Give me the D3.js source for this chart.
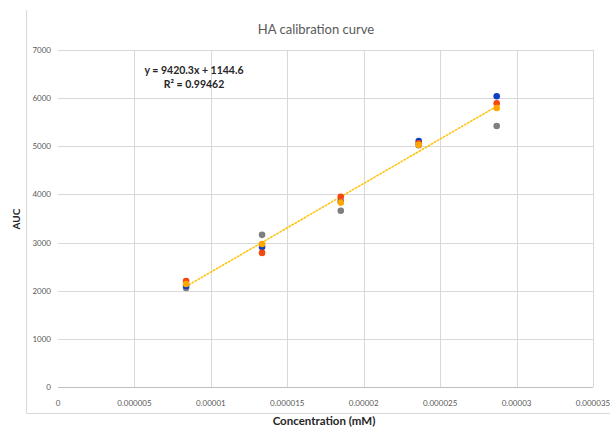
<!DOCTYPE html>
<html><head><meta charset="utf-8">
<script src="https://cdn.jsdelivr.net/npm/d3@7"></script>
<style>body{margin:0;background:#fff}svg{display:block}</style>
</head><body>
<svg id="c" width="610" height="429"></svg>
<script>
const concentrations = [0.00000838, 0.00001335, 0.0000185, 0.0000236, 0.0000287];
const seriesBlue   = [2100, 2910, 3850, 5110, 6040];
const seriesRed    = [2200, 2785, 3950, 5060, 5895];
const seriesOrange = [2140, 2970, 3830, 5030, 5795];
const seriesGray   = [2055, 3160, 3660, 5020, 5420];
const seriesColors = ["#0d3fc0", "#f4480e", "#ffa600", "#7f7f7f"];
const xTicks = [0, 0.000005, 0.00001, 0.000015, 0.00002, 0.000025, 0.00003, 0.000035];
const xTickLabels = ["0", "0.000005", "0.00001", "0.000015", "0.00002", "0.000025", "0.00003", "0.000035"];
const yTicks = [0, 1000, 2000, 3000, 4000, 5000, 6000, 7000];
const titleText = "HA calibration curve";
const equationText = "y = 9420.3x + 1144.6";
const r2Text = "R\u00b2 = 0.99462";

(function () {
const allSeries = [seriesBlue, seriesRed, seriesOrange, seriesGray];
const drawOrder = [3, 0, 1, 2];

const svg = d3.select("#c");
const pL = 58, pR = 593, pT = 50, pB = 387;
const x = d3.scaleLinear().domain([0, 0.000035]).range([pL, pR]);
const y = d3.scaleLinear().domain([0, 7000]).range([pB, pT]);
const font = "Lato, 'Open Sans', sans-serif";

// chart frame (partially visible)
svg.append("line").attr("x1", 26.5).attr("x2", 26.5).attr("y1", 10).attr("y2", 413.5).attr("stroke", "#d9d9d9");
svg.append("line").attr("x1", 26.5).attr("x2", 610).attr("y1", 413.5).attr("y2", 413.5).attr("stroke", "#d9d9d9");

// gridlines
svg.append("g").selectAll("line").data(yTicks.slice(1)).join("line")
  .attr("x1", pL).attr("x2", pR)
  .attr("y1", d => Math.round(y(d)) + 0.5).attr("y2", d => Math.round(y(d)) + 0.5)
  .attr("stroke", "#d9d9d9");
svg.append("g").selectAll("line").data(xTicks.slice(1)).join("line")
  .attr("y1", pT).attr("y2", pB)
  .attr("x1", d => Math.round(x(d)) + 0.5).attr("x2", d => Math.round(x(d)) + 0.5)
  .attr("stroke", "#d9d9d9");
svg.append("line").attr("x1", pL).attr("x2", pR)
  .attr("y1", Math.round(y(0)) + 0.5).attr("y2", Math.round(y(0)) + 0.5).attr("stroke", "#bfbfbf");

// tick labels
svg.append("g").selectAll("text").data(yTicks).join("text")
  .attr("x", pL - 7).attr("y", d => y(d) + 3)
  .attr("text-anchor", "end").attr("font-family", font).attr("font-size", 8)
  .attr("fill", "#595959").text(d => d);
svg.append("g").selectAll("text").data(xTicks).join("text")
  .attr("x", d => x(d)).attr("y", 406)
  .attr("text-anchor", "middle").attr("font-family", font).attr("font-size", 8)
  .attr("fill", "#595959").text((d, i) => xTickLabels[i]);

// trendline (least squares fit on the orange series)
const fit = d3.range(concentrations.length).map(i => [concentrations[i], seriesOrange[i]]);
const mx = d3.mean(fit, d => d[0]), my = d3.mean(fit, d => d[1]);
const slope = d3.sum(fit, d => (d[0] - mx) * (d[1] - my)) / d3.sum(fit, d => (d[0] - mx) ** 2);
const icpt = my - slope * mx;
const xa = concentrations[0], xb = concentrations[concentrations.length - 1];
svg.append("line")
  .attr("x1", x(xa)).attr("y1", y(icpt + slope * xa))
  .attr("x2", x(xb)).attr("y2", y(icpt + slope * xb))
  .attr("stroke", "#ffc000").attr("stroke-width", 1.5)
  .attr("stroke-dasharray", "1.5,2").attr("stroke-linecap", "round");

// markers
drawOrder.forEach(si => {
  svg.append("g").selectAll("circle").data(allSeries[si]).join("circle")
    .attr("cx", (d, i) => x(concentrations[i])).attr("cy", d => y(d))
    .attr("r", 3.3).attr("fill", seriesColors[si]);
});

// texts
svg.append("text").attr("x", 316).attr("y", 34).attr("text-anchor", "middle")
  .attr("font-family", font).attr("font-size", 13).attr("fill", "#595959").text(titleText);
svg.append("text").attr("x", 194).attr("y", 74).attr("text-anchor", "middle")
  .attr("font-family", font).attr("font-size", 10.5).attr("font-weight", "bold").attr("fill", "#262626").text(equationText);
svg.append("text").attr("x", 194).attr("y", 88).attr("text-anchor", "middle")
  .attr("font-family", font).attr("font-size", 10.5).attr("font-weight", "bold").attr("fill", "#262626").text(r2Text);
svg.append("text").attr("transform", "translate(20,219) rotate(-90)").attr("text-anchor", "middle")
  .attr("font-family", font).attr("font-size", 10).attr("font-weight", "bold").attr("fill", "#262626").text("AUC");
svg.append("text").attr("x", 324).attr("y", 425).attr("text-anchor", "middle")
  .attr("font-family", font).attr("font-size", 11.5).attr("font-weight", "bold").attr("fill", "#262626").text("Concentration (mM)");
})();
</script>
</body></html>
